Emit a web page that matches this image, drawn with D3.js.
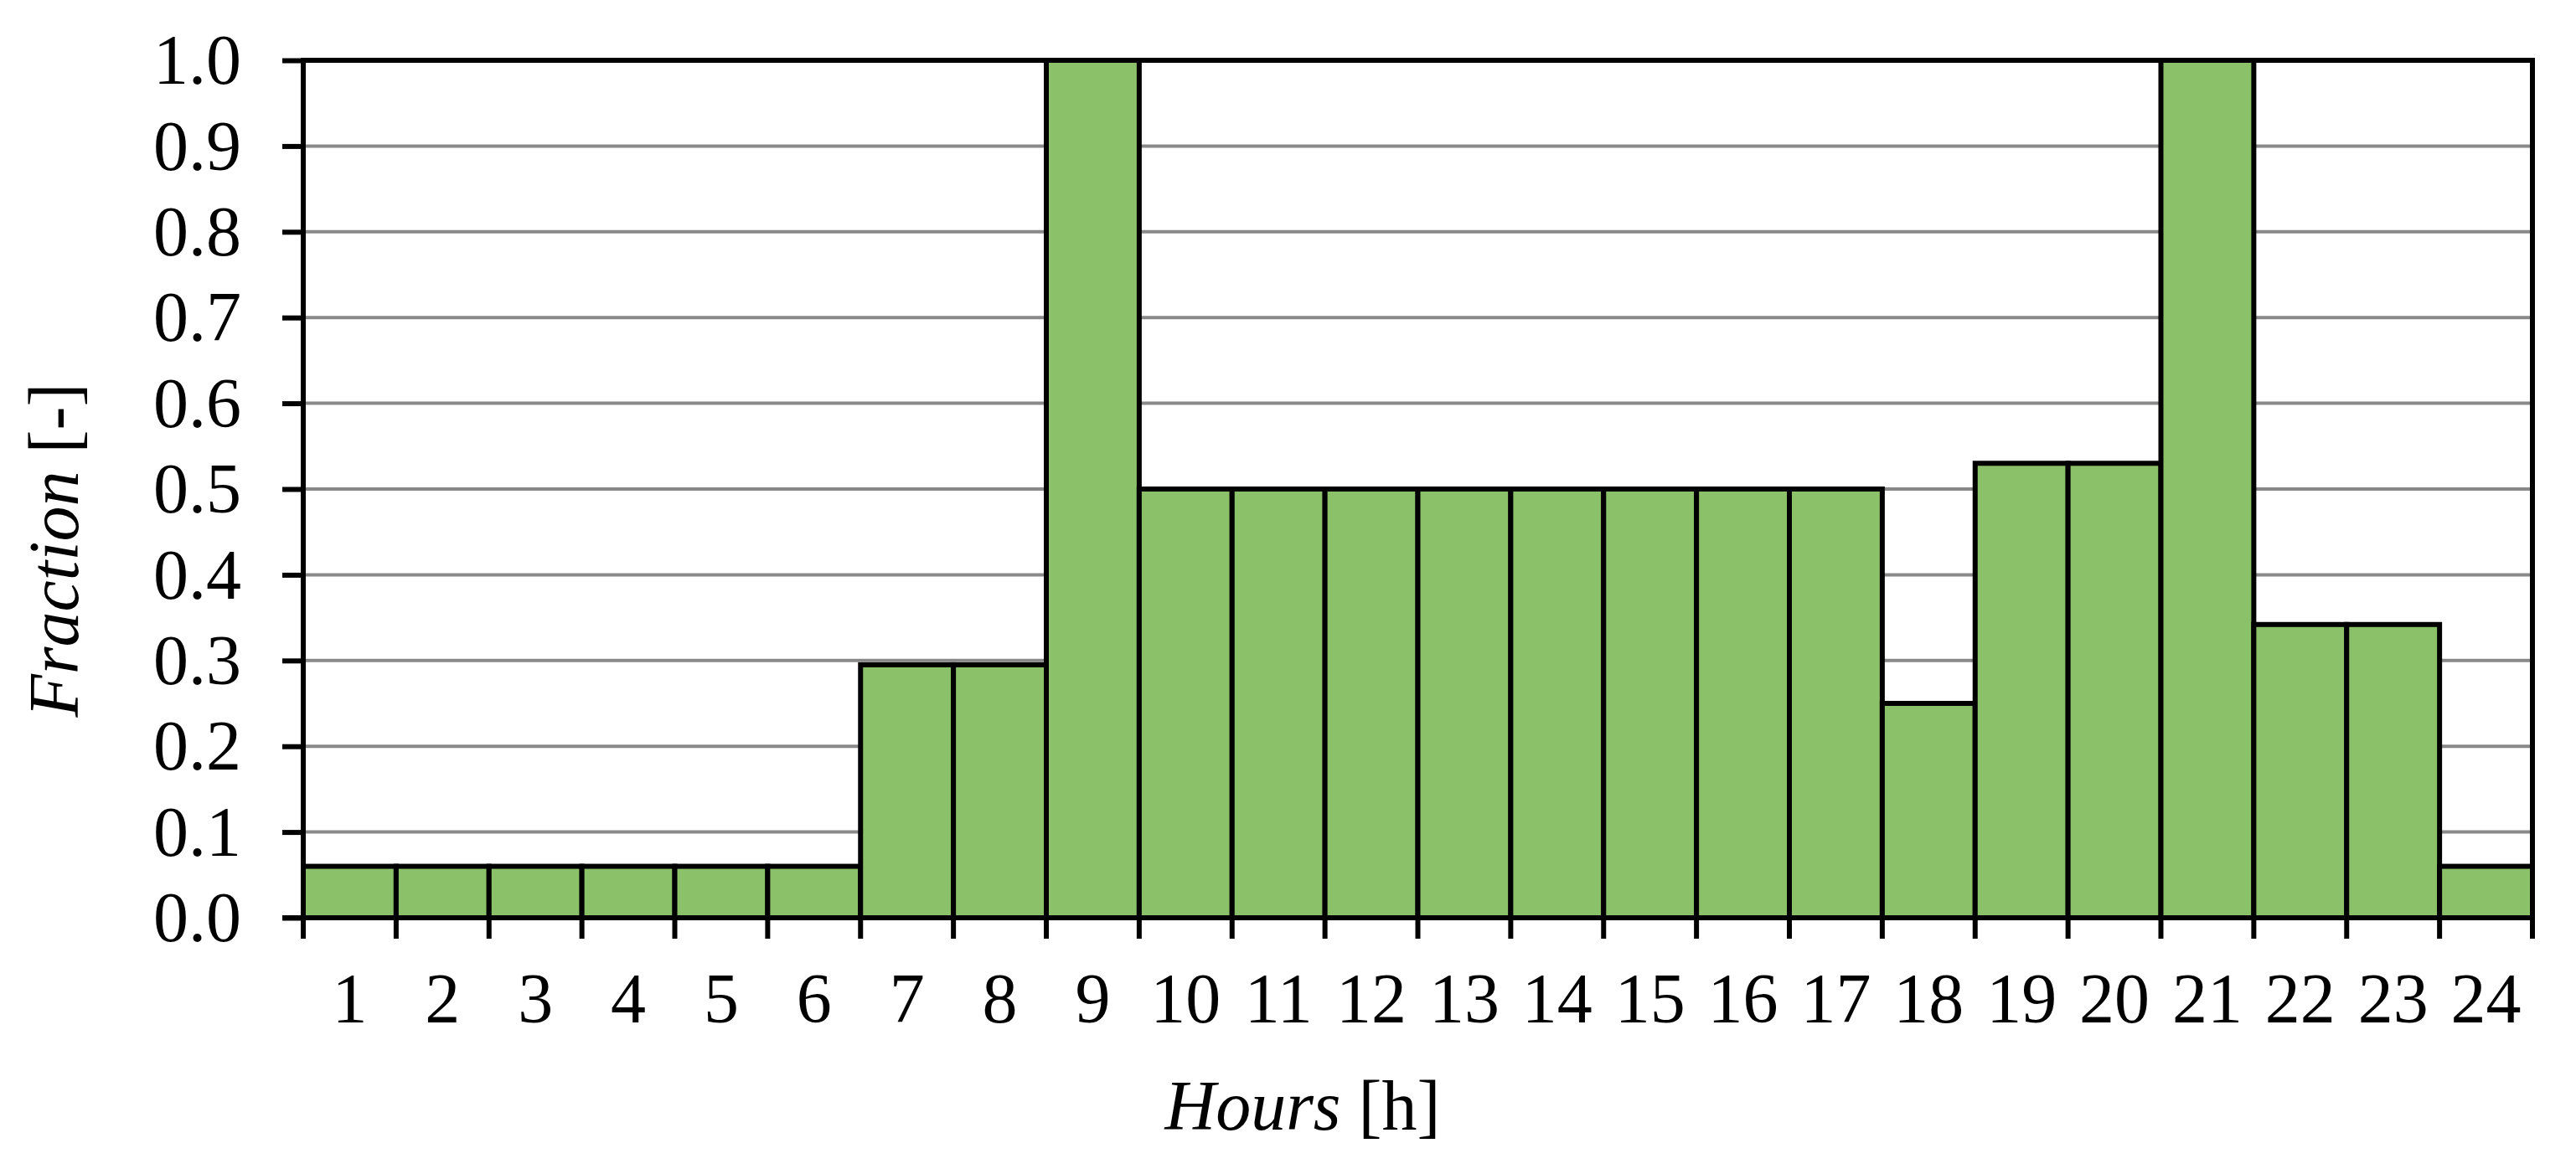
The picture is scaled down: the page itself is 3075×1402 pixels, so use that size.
<!DOCTYPE html>
<html>
<head>
<meta charset="utf-8">
<script src="https://cdn.jsdelivr.net/npm/d3@7"></script>
<style>
  html, body { margin: 0; padding: 0; background: #fff; }
  svg { display: block; }
</style>
</head>
<body>
<svg id="chart" width="3075" height="1402"></svg>
<script>
const hours = ["1","2","3","4","5","6","7","8","9","10","11","12","13","14","15","16","17","18","19","20","21","22","23","24"];
const fraction = [0.06,0.06,0.06,0.06,0.06,0.06,0.295,0.295,1.0,0.5,0.5,0.5,0.5,0.5,0.5,0.5,0.5,0.25,0.53,0.53,1.0,0.342,0.342,0.06];
const yTicks = [0,0.1,0.2,0.3,0.4,0.5,0.6,0.7,0.8,0.9,1.0];

const svg = d3.select("#chart");
const font = "'Liberation Serif', 'Times New Roman', serif";
const m = {left: 362, right: 3023, top: 72, bottom: 1096};

const x = d3.scaleBand().domain(hours).range([m.left, m.right]).padding(0);
const y = d3.scaleLinear().domain([0, 1]).range([m.bottom, m.top]);

// gridlines
svg.append("g").selectAll("line").data(yTicks.filter(d => d > 0 && d < 1)).join("line")
  .attr("x1", m.left).attr("x2", m.right)
  .attr("y1", d => y(d)).attr("y2", d => y(d))
  .attr("stroke", "#898989").attr("stroke-width", 4);

// bars
svg.append("g").selectAll("rect").data(hours).join("rect")
  .attr("x", d => x(d))
  .attr("y", (d, i) => y(fraction[i]))
  .attr("width", x.bandwidth())
  .attr("height", (d, i) => y(0) - y(fraction[i]))
  .attr("fill", "#8bc168")
  .attr("stroke", "#000").attr("stroke-width", 6);

// plot border (top & right)
svg.append("path")
  .attr("d", `M${m.left},${m.top}H${m.right}V${m.bottom}`)
  .attr("fill", "none").attr("stroke", "#000").attr("stroke-width", 6)
  .attr("stroke-linecap", "square");

// y axis
const yAxis = svg.append("g").attr("transform", `translate(${m.left},0)`)
  .call(d3.axisLeft(y).tickValues(yTicks).tickFormat(d3.format(".1f")).tickSize(25).tickPadding(49));
yAxis.select(".domain").attr("stroke", "#000").attr("stroke-width", 6)
  .attr("d", `M0,${m.bottom + 3}V${m.top - 3}`);
yAxis.selectAll(".tick line").attr("stroke", "#000").attr("stroke-width", 6);
yAxis.selectAll(".tick text").attr("font-family", font).attr("font-size", 84).attr("fill", "#000")
  .attr("dy", "0.33em");

// x axis
const bounds = d3.range(hours.length + 1).map(i => m.left + i * x.step());
const xAxis = svg.append("g").attr("transform", `translate(0,${m.bottom})`)
  .call(d3.axisBottom(x).tickSize(0).tickPadding(0));
xAxis.select(".domain").attr("stroke", "#000").attr("stroke-width", 6)
  .attr("d", `M${m.left - 25},0H${m.right + 3}`);
xAxis.selectAll(".tick text").attr("font-family", font).attr("font-size", 84).attr("fill", "#000")
  .attr("y", 125).attr("dy", 0);
xAxis.append("g").selectAll("line").data(bounds).join("line")
  .attr("x1", d => d).attr("x2", d => d).attr("y1", 0).attr("y2", 25)
  .attr("stroke", "#000").attr("stroke-width", 6);

// axis titles
const xt = svg.append("text").attr("x", 1555).attr("y", 1349)
  .attr("text-anchor", "middle").attr("font-family", font).attr("font-size", 84).attr("fill", "#000");
xt.append("tspan").attr("font-style", "italic").text("Hours");
xt.append("tspan").text(" [h]");

const yt = svg.append("text").attr("transform", "translate(93,657) rotate(-90)")
  .attr("text-anchor", "middle").attr("font-family", font).attr("font-size", 84).attr("fill", "#000");
yt.append("tspan").attr("font-style", "italic").text("Fraction");
yt.append("tspan").text(" [-]");
</script>
</body>
</html>
